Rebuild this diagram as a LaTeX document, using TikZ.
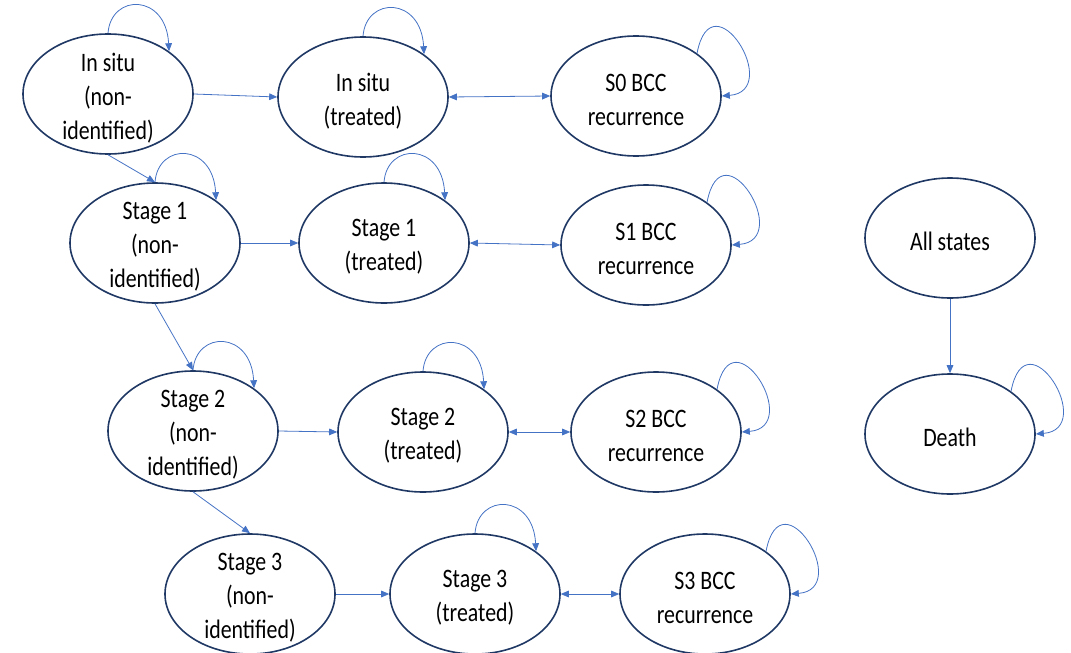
\documentclass[tikz,border=0pt]{standalone}
\usepackage{fontspec}
\setmainfont{Carlito}[FakeStretch=0.82]
\usetikzlibrary{shapes.geometric,arrows.meta}
\definecolor{edgeblue}{HTML}{4472C4}
\definecolor{rimnavy}{HTML}{1F3864}
\tikzset{
  state/.style={ellipse, draw=rimnavy, line width=1.2pt,
    minimum width=127.5pt, minimum height=90pt, inner sep=0pt},
  statetext/.style={align=center, inner sep=0pt, yshift=-2.8pt,
    font=\fontsize{20}{25.5}\selectfont},
  flow/.style={draw=edgeblue, line width=0.6pt,
    -{Triangle[length=6pt,width=5pt]}},
  twoway/.style={draw=edgeblue, line width=0.6pt,
    {Triangle[length=6pt,width=5pt]}-{Triangle[length=6pt,width=5pt]}},
  toploop/.style={flow},
  sideloop/.style={flow},
}
\begin{document}
\begin{tikzpicture}[x=0.75pt,y=-0.75pt]
\useasboundingbox (0,0) rectangle (1071,653);

% states
\node[state, label={[statetext]center:{In situ\\(non-\\identified)}}] (isn) at (108,94) {};
\node[state, label={[statetext]center:{In situ\\(treated)}}] (ist) at (363,97) {};
\node[state, label={[statetext]center:{S0 BCC\\recurrence}}] (s0r) at (636,96) {};

\node[state, label={[statetext]center:{Stage 1\\(non-\\identified)}}] (s1n) at (155,243) {};
\node[state, label={[statetext]center:{Stage 1\\(treated)}}] (s1t) at (384,243) {};
\node[state, label={[statetext]center:{S1 BCC\\recurrence}}] (s1r) at (646,245) {};

\node[state, label={[statetext]center:{Stage 2\\(non-\\identified)}}] (s2n) at (193,431) {};
\node[state, label={[statetext]center:{Stage 2\\(treated)}}] (s2t) at (423,432) {};
\node[state, label={[statetext]center:{S2 BCC\\recurrence}}] (s2r) at (656,432) {};

\node[state, label={[statetext]center:{Stage 3\\(non-\\identified)}}] (s3n) at (250,594) {};
\node[state, label={[statetext]center:{Stage 3\\(treated)}}] (s3t) at (475,594) {};
\node[state, label={[statetext]center:{S3 BCC\\recurrence}}] (s3r) at (705,594) {};

\node[state, label={[statetext]center:{All states}}] (all) at (950,238) {};
\node[state, label={[statetext]center:{Death}}] (death) at (950,434) {};

% transitions to treatment
\draw[flow] (isn.east) -- (ist.west);
\draw[flow] (s1n.east) -- (s1t.west);
\draw[flow] (s2n.east) -- (s2t.west);
\draw[flow] (s3n.east) -- (s3t.west);

% treated <-> recurrence
\draw[twoway] (ist.east) -- (s0r.west);
\draw[twoway] (s1t.east) -- (s1r.west);
\draw[twoway] (s2t.east) -- (s2r.west);
\draw[twoway] (s3t.east) -- (s3r.west);

% progression between stages
\draw[flow] (isn.south) -- (s1n.north);
\draw[flow] (s1n.south) -- (s2n.north);
\draw[flow] (s2n.south) -- (s3n.north);

% death
\draw[flow] (all.south) -- (death.north);

% staying in the same state: loops over the top
\foreach \s in {isn,ist,s1n,s1t,s2n,s2t,s3t}
  \draw[toploop] (\s.north) .. controls +(3,-40) and +(-3,-58) .. (\s.35);

% staying in the same state: loops on the right
\foreach \s in {s0r,s1r,s2r,s3r,death}
  \draw[sideloop] (\s.35) .. controls +(15,-78) and +(62,-5) .. (\s.east);

\end{tikzpicture}
\end{document}
